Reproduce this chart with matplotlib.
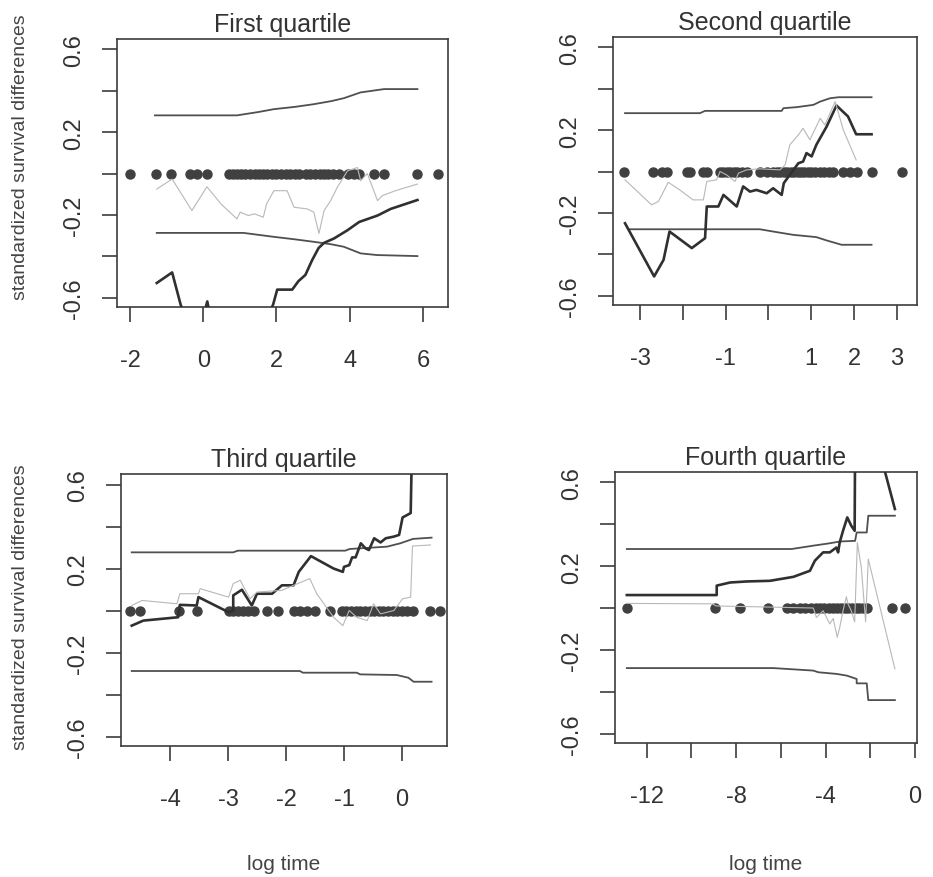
import matplotlib
matplotlib.use("Agg")
import matplotlib.pyplot as plt

plt.rcParams['font.family'] = ['Liberation Sans', 'DejaVu Sans']

# ---- First quartile ----
q1_upper_t = [-1.32, 0.92, 1.50, 1.93, 2.50, 3.02, 3.50, 3.84, 4.30, 4.94, 5.85]
q1_upper = [0.281, 0.281, 0.297, 0.311, 0.322, 0.335, 0.350, 0.364, 0.392, 0.408, 0.408]
q1_lower_t = [-1.27, 1.10, 1.93, 2.50, 3.02, 3.50, 3.84, 4.30, 4.75, 5.85]
q1_lower = [-0.287, -0.287, -0.306, -0.318, -0.330, -0.342, -0.354, -0.386, -0.394, -0.399]
q1_obs_t = [-1.27, -0.85, -0.62, -0.45, -0.10, 0.05, 0.11, 0.20, 0.80, 1.40, 1.91, 2.02,
            2.43, 2.60, 2.79, 2.97, 3.15, 3.30, 3.57, 3.94, 4.26, 4.76, 5.12, 5.85]
q1_obs = [-0.529, -0.478, -0.632, -0.72, -0.78, -0.66, -0.618, -0.70, -0.85, -0.85, -0.632, -0.561,
          -0.561, -0.520, -0.490, -0.420, -0.360, -0.335, -0.314, -0.274, -0.234, -0.203, -0.171, -0.128]
q1_sim_t = [-1.27, -0.85, -0.31, 0.10, 0.50, 0.92, 1.01, 1.23, 1.40, 1.64, 1.73, 1.93, 2.29, 2.48,
            2.84, 3.02, 3.16, 3.30, 3.48, 3.66, 3.94, 4.21, 4.30, 4.48, 4.76, 4.89, 5.25, 5.85]
q1_sim = [-0.075, -0.027, -0.179, -0.064, -0.150, -0.219, -0.187, -0.203, -0.195, -0.211, -0.147,
          -0.083, -0.083, -0.163, -0.171, -0.187, -0.290, -0.179, -0.131, -0.067, 0.013, 0.029,
          -0.035, 0.0, -0.131, -0.107, -0.083, -0.051]
q1_events = [-2.0, -1.29, -0.88, -0.36, -0.17, 0.10, 0.69, 0.80, 0.92, 1.03, 1.15, 1.27, 1.40,
             1.52, 1.63, 1.75, 1.88, 2.00, 2.12, 2.25, 2.38, 2.50, 2.62, 2.80, 2.92, 3.05, 3.18,
             3.30, 3.42, 3.55, 3.70, 3.94, 4.12, 4.26, 4.67, 4.94, 5.85, 6.42]

# ---- Second quartile ----
q2_upper_t = [-3.35, -1.60, -1.48, 0.31, 0.35, 0.66, 1.05, 1.21, 1.44, 1.64, 2.41]
q2_upper = [0.282, 0.282, 0.293, 0.293, 0.306, 0.311, 0.322, 0.338, 0.354, 0.359, 0.359]
q2_lower_t = [-3.24, -0.20, 0.11, 0.58, 1.12, 1.36, 1.71, 2.41]
q2_lower = [-0.279, -0.279, -0.290, -0.306, -0.317, -0.333, -0.354, -0.354]
q2_obs_t = [-3.35, -2.67, -2.45, -2.31, -1.79, -1.48, -1.44, -1.17, -1.05, -0.74, -0.59, -0.43,
            -0.28, -0.04, 0.11, 0.31, 0.36, 0.50, 0.70, 0.81, 0.89, 1.01, 1.12, 1.36, 1.59,
            1.86, 2.05, 2.41]
q2_obs = [-0.250, -0.507, -0.427, -0.290, -0.370, -0.322, -0.169, -0.169, -0.113, -0.169, -0.072,
          -0.097, -0.089, -0.105, -0.081, -0.113, -0.056, -0.016, 0.040, 0.048, 0.089, 0.073,
          0.129, 0.217, 0.319, 0.266, 0.180, 0.180]
q2_sim_t = [-3.35, -2.73, -2.57, -2.34, -2.07, -1.76, -1.52, -1.44, -1.21, -1.13, -0.98, -0.78,
            -0.70, -0.51, -0.20, 0.27, 0.39, 0.50, 0.70, 0.81, 0.97, 1.21, 1.32, 1.56, 1.75, 2.05]
q2_sim = [-0.040, -0.161, -0.145, -0.052, -0.089, -0.137, -0.137, -0.048, -0.040, 0.0, -0.016,
          -0.048, -0.008, 0.008, 0.013, 0.008, 0.032, 0.129, 0.177, 0.209, 0.153, 0.257, 0.225,
          0.338, 0.201, 0.056]
q2_events = [-3.37, -2.70, -2.49, -2.36, -1.91, -1.83, -1.52, -1.44, -1.13, -1.05, -0.97, -0.89,
             -0.81, -0.74, -0.62, -0.51, -0.20, -0.04, 0.11, 0.20, 0.28, 0.36, 0.44, 0.52, 0.60,
             0.68, 0.76, 0.84, 0.92, 1.00, 1.10, 1.20, 1.30, 1.42, 1.52, 1.75, 1.91, 2.06, 2.41,
             3.11]

# ---- Third quartile ----
q3_upper_t = [-4.66, -2.91, -2.83, -0.98, -0.90, -0.26, -0.03, 0.19, 0.51]
q3_upper = [0.277, 0.277, 0.285, 0.285, 0.293, 0.304, 0.320, 0.341, 0.347]
q3_lower_t = [-4.66, -1.76, -1.71, -0.78, -0.72, -0.09, 0.11, 0.20, 0.51]
q3_lower = [-0.288, -0.288, -0.296, -0.296, -0.304, -0.307, -0.320, -0.339, -0.339]
q3_obs_t = [-4.66, -4.46, -3.86, -3.83, -3.54, -3.51, -2.99, -2.91, -2.91, -2.76, -2.59, -2.50,
            -2.24, -2.07, -1.87, -1.78, -1.57, -1.18, -1.02, -1.00, -0.91, -0.86, -0.80, -0.71,
            -0.63, -0.57, -0.48, -0.37, -0.28, -0.14, -0.05, 0.01, 0.15, 0.18]
q3_obs = [-0.072, -0.048, -0.032, 0.027, 0.024, 0.064, -0.008, 0.0, 0.072, 0.099, 0.024, 0.080,
          0.080, 0.120, 0.120, 0.184, 0.259, 0.200, 0.184, 0.208, 0.216, 0.253, 0.253, 0.320,
          0.296, 0.288, 0.344, 0.324, 0.344, 0.352, 0.360, 0.443, 0.464, 0.90]
q3_sim_t = [-4.66, -4.48, -3.88, -3.83, -3.51, -3.48, -2.99, -2.91, -2.79, -2.62, -2.50, -2.07,
            -1.87, -1.59, -1.47, -1.18, -1.02, -0.91, -0.78, -0.60, -0.49, -0.37, -0.14, 0.01,
            0.15, 0.18, 0.49]
q3_sim = [0.024, 0.048, 0.032, 0.080, 0.080, 0.104, 0.064, 0.128, 0.144, 0.056, 0.088, 0.096,
          0.120, 0.152, 0.080, -0.032, -0.072, 0.0, -0.032, -0.048, 0.032, -0.016, 0.0, 0.056,
          0.064, 0.307, 0.312]
q3_events = [-4.69, -4.51, -3.84, -3.53, -2.99, -2.91, -2.82, -2.74, -2.65, -2.56, -2.33, -2.13,
             -1.87, -1.76, -1.64, -1.50, -1.24, -1.04, -0.96, -0.88, -0.80, -0.72, -0.64, -0.56,
             -0.48, -0.40, -0.32, -0.24, -0.16, -0.08, 0.0, 0.08, 0.19, 0.48, 0.66]

# ---- Fourth quartile ----
q4_upper_t = [-12.89, -5.52, -4.55, -3.84, -3.35, -2.68, -2.61, -2.16, -2.09, -0.90]
q4_upper = [0.282, 0.282, 0.298, 0.309, 0.318, 0.321, 0.361, 0.361, 0.441, 0.441]
q4_lower_t = [-12.89, -6.34, -4.55, -4.32, -3.50, -3.05, -2.61, -2.61, -2.16, -2.09, -0.90]
q4_lower = [-0.287, -0.287, -0.299, -0.307, -0.315, -0.323, -0.339, -0.360, -0.360, -0.440, -0.440]
q4_obs_t = [-12.89, -8.87, -8.87, -8.27, -7.52, -6.49, -5.44, -4.70, -4.48, -4.11, -3.81, -3.52,
            -3.44, -3.37, -3.22, -3.03, -2.85, -2.70, -2.67, -2.16, -0.90]
q4_obs = [0.062, 0.062, 0.107, 0.122, 0.127, 0.130, 0.149, 0.178, 0.226, 0.266, 0.266, 0.289,
          0.266, 0.313, 0.369, 0.433, 0.393, 0.369, 1.0, 0.98, 0.473]
q4_sim_t = [-12.89, -9.06, -8.90, -4.55, -4.41, -4.11, -3.81, -3.66, -3.48, -3.37, -3.22, -3.07,
            -3.00, -2.85, -2.70, -2.58, -2.40, -2.21, -2.09, -0.90]
q4_sim = [0.022, 0.020, 0.010, 0.0, -0.045, -0.013, -0.076, -0.050, -0.140, -0.094, -0.013, 0.054,
          0.020, -0.013, -0.066, 0.313, 0.193, -0.066, 0.234, -0.291]
q4_events = [-12.89, -8.95, -7.83, -6.56, -5.74, -5.44, -5.14, -4.90, -4.66, -4.45, -4.25, -4.05,
             -3.86, -3.68, -3.50, -3.32, -3.15, -2.98, -2.82, -2.66, -2.50, -2.34, -2.16, -1.04,
             -0.45]

titles = ["First quartile", "Second quartile", "Third quartile", "Fourth quartile"]
y_ticks = [-0.6, -0.4, -0.2, 0.0, 0.2, 0.4, 0.6]
y_ticklabels = ["-0.6", "", "-0.2", "", "0.2", "", "0.6"]
x_ticks = [[-2, 0, 2, 4, 6], [-3, -2, -1, 0, 1, 2, 3], [-4, -3, -2, -1, 0], [-12, -10, -8, -6, -4, -2, 0]]
x_ticklabels = [["-2", "0", "2", "4", "6"], ["-3", "", "-1", "", "1", "2", "3"],
                ["-4", "-3", "-2", "-1", "0"], ["-12", "", "-8", "", "-4", "", "0"]]

W, H = 933, 878
# axes boxes in pixels: left, right, top, bottom
boxes = [(117, 448, 40, 308), (613, 917, 38, 306), (121, 447, 475, 747), (615, 917, 473, 744)]
xlims = [(-2.356, 6.685), (-3.631, 3.472), (-4.845, 0.776), (-13.42, 0.089)]
ylabel_centers = [157, 607]

panels = [
    (q1_upper_t, q1_upper, q1_lower_t, q1_lower, q1_obs_t, q1_obs, q1_sim_t, q1_sim, q1_events),
    (q2_upper_t, q2_upper, q2_lower_t, q2_lower, q2_obs_t, q2_obs, q2_sim_t, q2_sim, q2_events),
    (q3_upper_t, q3_upper, q3_lower_t, q3_lower, q3_obs_t, q3_obs, q3_sim_t, q3_sim, q3_events),
    (q4_upper_t, q4_upper, q4_lower_t, q4_lower, q4_obs_t, q4_obs, q4_sim_t, q4_sim, q4_events),
]

dark = "#3c3c3c"
fig = plt.figure(figsize=(W / 100, H / 100), dpi=100)

for i, (ut, u, lt, l, ot, o, st, s, ev) in enumerate(panels):
    left, right, top, bottom = boxes[i]
    ax = fig.add_axes([left / W, 1 - bottom / H, (right - left) / W, (bottom - top) / H])
    ax.plot(ev, [0] * len(ev), "o", color="#404040", markersize=6.5, zorder=2)
    ax.plot(ut, u, color="#505050", lw=1.3, zorder=3)
    ax.plot(lt, l, color="#505050", lw=1.3, zorder=3)
    ax.plot(ot, o, color="#303030", lw=1.9, zorder=4)
    ax.plot(st, s, color="#b8b8b8", lw=0.8, zorder=5)
    ax.set_xlim(*xlims[i])
    ax.set_ylim(-0.645, 0.65)
    ax.set_xticks(x_ticks[i])
    ax.set_xticklabels(x_ticklabels[i])
    ax.set_yticks(y_ticks)
    ax.set_yticklabels(y_ticklabels, rotation=90, va="center")
    ax.tick_params(axis="x", length=11, width=1.2, color=dark, pad=19, labelsize=17, labelcolor="#333333")
    ax.tick_params(axis="y", length=11, width=1.2, color=dark, pad=12, labelsize=17, labelcolor="#333333")
    for sp in ax.spines.values():
        sp.set_color(dark)
        sp.set_linewidth(1.2)
    ax.set_title(titles[i], fontsize=18, color="#333333", pad=6)
    if i % 2 == 0:
        ax.set_ylabel("standardized survival differences", fontsize=14, color="#444444")
        ax.yaxis.set_label_coords((29 - left) / (right - left),
                                  (bottom - ylabel_centers[i // 2]) / (bottom - top))
    if i >= 2:
        ax.set_xlabel("log time", fontsize=15, color="#444444")
        ax.xaxis.set_label_coords(0.5, (bottom - 855) / (bottom - top))

fig.savefig("out.png", dpi=100, facecolor="white")
